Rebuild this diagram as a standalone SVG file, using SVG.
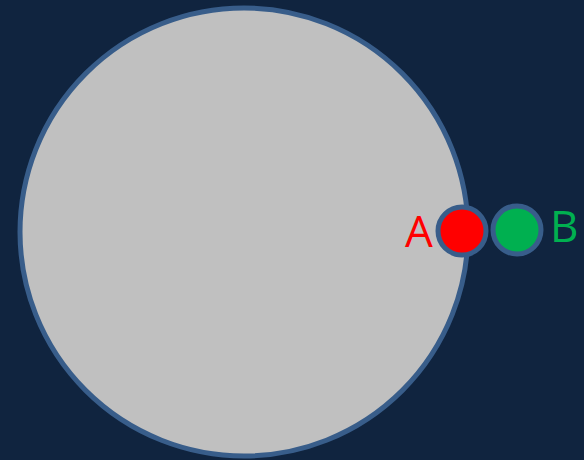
<svg xmlns="http://www.w3.org/2000/svg" width="584" height="460" viewBox="0 0 584 460">
<style>
.ring{stroke:#385D8A;stroke-width:5}
.lbl{font-family:"Open Sans","Noto Sans","Liberation Sans",sans-serif;font-size:44px}
</style>
<rect width="584" height="460" fill="#10243F"/>
<g id="big"><circle class="ring" cx="244" cy="232" r="224" fill="#C0C0C0"/></g>
<g id="nodeA"><circle class="ring" cx="462" cy="231" r="24" fill="#FF0000"/><text class="lbl" x="405" y="247" fill="#FF0000">A</text></g>
<g id="nodeB"><circle class="ring" cx="517" cy="230" r="24" fill="#00B050"/><text class="lbl" x="550" y="242" fill="#00B050">B</text></g>
<g id="connectors"></g>
</svg>
